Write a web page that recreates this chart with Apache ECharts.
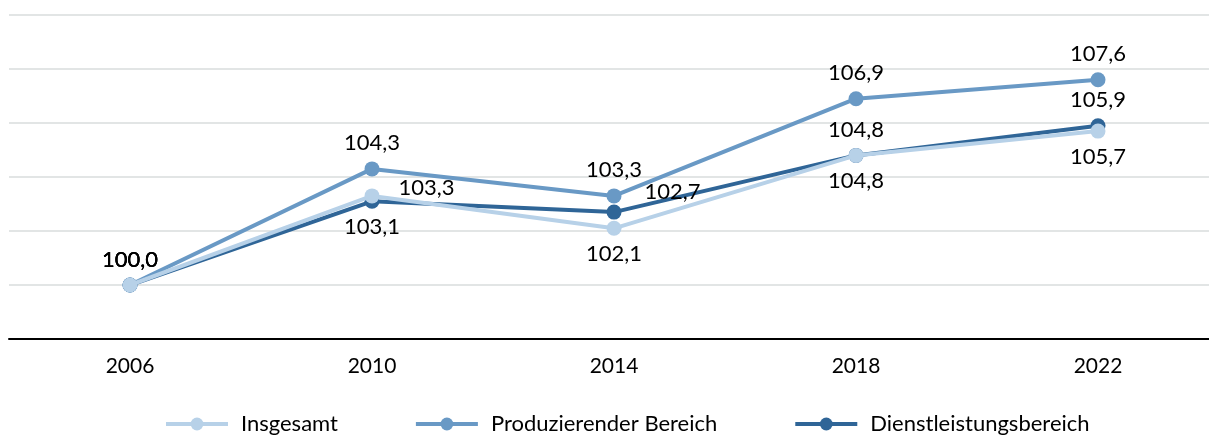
<!DOCTYPE html>
<html>
<head>
<meta charset="utf-8">
<script src="https://cdn.jsdelivr.net/npm/echarts@6/dist/echarts.min.js"></script>
<style>
  html, body { margin: 0; padding: 0; background: #fff; }
  #chart { width: 1209px; height: 435px; }
</style>
</head>
<body>
<div id="chart"></div>
<script>
// Kategorien und Werte (Index 2006 = 100)
const years = ['2006', '2010', '2014', '2018', '2022'];
const insgesamt = [100.0, 103.3, 102.1, 104.8, 105.7];
const produzierend = [100.0, 104.3, 103.3, 106.9, 107.6];
const dienstleistung = [100.0, 103.1, 102.7, 104.8, 105.9];

const FONT = 'Lato';
const fmt = p => p.value.toFixed(1).replace('.', ',');

// Position der Beschriftung je Punkt
const posInsgesamt = ['top', 'right', 'bottom', 'bottom', 'bottom'];
const posProduzierend = ['top', 'top', 'top', 'top', 'top'];
const posDienst = ['top', 'bottom', 'right', 'top', 'top'];
// Verschiebung der rechts stehenden Beschriftungen
const rightOffsets = { Insgesamt: [12, -8], Dienstleistungsbereich: [16, -20] };

function points(name, values, positions) {
  return values.map((v, i) => {
    const pos = positions[i];
    const label = { position: pos };
    if (pos === 'right') { label.offset = rightOffsets[name]; }
    return { value: v, label: label };
  });
}

function lineSeries(name, color, values, positions, z) {
  return {
    name: name,
    type: 'line',
    z: z,
    data: points(name, values, positions),
    symbol: 'circle',
    symbolSize: 15,
    lineStyle: { color: color, width: 4 },
    itemStyle: { color: color },
    label: {
      show: true,
      formatter: fmt,
      color: '#000',
      fontFamily: FONT,
      fontSize: 22,
      distance: 7
    },
    emphasis: { disabled: true }
  };
}

const chart = echarts.init(document.getElementById('chart'));
chart.setOption({
  animation: false,
  textStyle: { fontFamily: FONT },
  grid: { left: 9, width: 1210, top: 15, bottom: 96, outerBoundsMode: 'none', containLabel: false },
  legend: {
    top: 408,
    left: 159,
    data: ['Insgesamt', 'Produzierender Bereich', 'Dienstleistungsbereich'],
    itemWidth: 62,
    itemHeight: 16,
    itemGap: 76,
    lineStyle: { width: 4 },
    textStyle: { fontFamily: FONT, fontSize: 22, color: '#000', padding: [0, 0, 0, 8] }
  },
  xAxis: {
    type: 'category',
    data: years,
    boundaryGap: true,
    axisLine: { lineStyle: { color: '#000', width: 2 } },
    axisTick: { show: false },
    axisLabel: { color: '#000', fontFamily: FONT, fontSize: 21, margin: 17 }
  },
  yAxis: {
    type: 'value',
    min: 98,
    max: 110,
    interval: 2,
    axisLabel: { show: false },
    axisLine: { show: false },
    axisTick: { show: false },
    splitLine: { lineStyle: { color: '#d9dcdc', width: 1.5 } }
  },
  series: [
    lineSeries('Produzierender Bereich', '#6999c5', produzierend, posProduzierend, 2),
    lineSeries('Dienstleistungsbereich', '#2f6597', dienstleistung, posDienst, 3),
    lineSeries('Insgesamt', '#b7d1e8', insgesamt, posInsgesamt, 4)
  ]
});
</script>
</body>
</html>
